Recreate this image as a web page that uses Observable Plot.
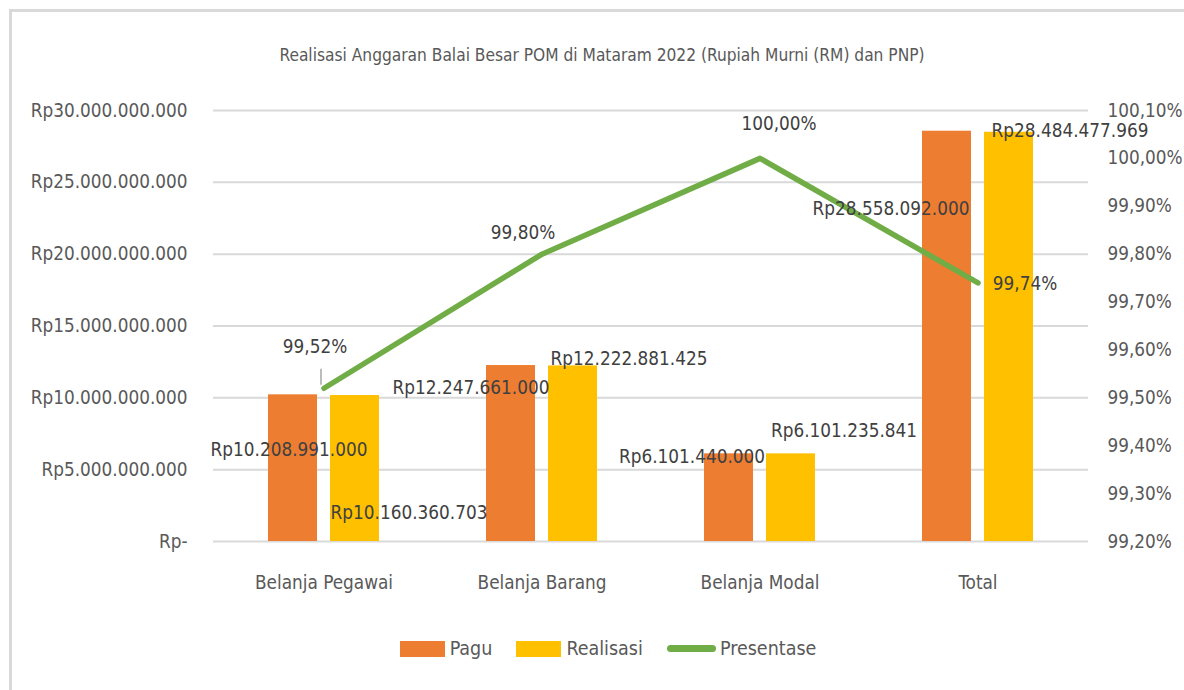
<!DOCTYPE html>
<html>
<head>
<meta charset="utf-8">
<script src="https://cdn.jsdelivr.net/npm/d3@7"></script>
<script src="https://cdn.jsdelivr.net/npm/@observablehq/plot@0.6"></script>
<style>
  html, body { margin: 0; padding: 0; background: #fff; }
  body { width: 1184px; height: 690px; overflow: hidden; position: relative;
         font-family: "Liberation Sans Narrow", "Arial Narrow", "DejaVu Sans Condensed", sans-serif; }
  #frame { position: absolute; left: 9px; top: 9px; width: 1200px; height: 700px;
           border-left: 3px solid #d9d9d9; border-top: 3px solid #d9d9d9; box-sizing: border-box; }
  #title { position: absolute; left: 10px; width: 1184px; top: 45px; text-align: center;
           font-size: 17.2px; color: #595959; }
  #chart { position: absolute; left: 0; top: 80px; }
  #legend { position: absolute; top: 637px; left: 0; width: 1216px; display: flex; justify-content: center;
            align-items: center; font-size: 19.5px; color: #595959; }
  .item { display: flex; align-items: center; margin: 0 12px; }
  .sw { width: 45px; height: 16px; margin-right: 5px; }
  .ln { width: 49px; height: 7px; border-radius: 4px; margin-right: 4px; }
</style>
</head>
<body>
<div id="frame"></div>
<div id="title">Realisasi Anggaran Balai Besar POM di Mataram 2022 (Rupiah Murni (RM) dan PNP)</div>
<div id="chart"></div>
<div id="legend"></div>
<script>
// ---- data ----
const categories = ["Belanja Pegawai", "Belanja Barang", "Belanja Modal", "Total"];
const pagu = [10208991000, 12247661000, 6101440000, 28558092000];
const realisasi = [10160360703, 12222881425, 6101235841, 28484477969];
const presentase = [99.52, 99.80, 100.00, 99.74];
const leftTicks = [0, 5e9, 10e9, 15e9, 20e9, 25e9, 30e9];
const rightTicks = [99.2, 99.3, 99.4, 99.5, 99.6, 99.7, 99.8, 99.9, 100.0, 100.1];
const seriesNames = ["Pagu", "Realisasi", "Presentase"];
const colors = ["#ED7D31", "#FFC000", "#70AD47"];

// secondary axis mapping (percent -> left-axis units)
const pMin = 99.2, pMax = 100.1, yMax = 30e9;
const pctToY = p => (p - pMin) / (pMax - pMin) * yMax;
const yToPct = v => v / yMax * (pMax - pMin) + pMin;

const fmtRp = v => v === 0 ? "Rp-" : "Rp" + d3.format(",")(v).replace(/,/g, ".");
const fmtPct = p => p.toFixed(2).replace(".", ",") + "%";

const bars = [];
categories.forEach((c, i) => {
  bars.push({cat: c, series: "Pagu", value: pagu[i]});
  bars.push({cat: c, series: "Realisasi", value: realisasi[i]});
});
const line = categories.map((c, i) => ({cat: c, pct: presentase[i]}));

// label nudges (pixels) mimicking Excel's label placement
const paguNudge = [[-35, 55], [-71, 22], [-68, 3], [-87, 78]];
const realNudge = [[85, 117], [87, -7], [84, -23], [92, -1]];
const pctNudge = [[-9, -41], [-19, -21], [19, -34], [47, 1]];

const labelColor = "#404040";
const fs = 18.8;

const labelMarks = [];
categories.forEach((c, i) => {
  labelMarks.push(Plot.text([{cat: c, value: pagu[i]}], {
    x: "cat", y: "value", text: d => fmtRp(d.value), dx: paguNudge[i][0], dy: paguNudge[i][1],
    fill: labelColor, fontSize: fs}));
  labelMarks.push(Plot.text([{cat: c, value: realisasi[i]}], {
    x: "cat", y: "value", text: d => fmtRp(d.value), dx: realNudge[i][0], dy: realNudge[i][1],
    fill: labelColor, fontSize: fs}));
  labelMarks.push(Plot.text([{cat: c, pct: presentase[i]}], {
    x: "cat", y: d => pctToY(d.pct), text: d => fmtPct(d.pct), dx: pctNudge[i][0], dy: pctNudge[i][1],
    fill: labelColor, fontSize: fs}));
});

const chart = Plot.plot({
  width: 1184,
  height: 540,
  marginLeft: 213,
  marginRight: 96,
  marginTop: 30,
  marginBottom: 79,
  style: {fontFamily: '"Liberation Sans Narrow", "Arial Narrow", "DejaVu Sans Condensed", sans-serif', fontSize: fs + "px", background: "transparent"},
  x: {type: "band", domain: categories, paddingInner: 0.4926, paddingOuter: 0.2463, axis: null},
  y: {domain: [0, yMax], axis: null},
  marks: [
    Plot.ruleY(leftTicks, {stroke: "#d9d9d9", strokeWidth: 2}),
    Plot.barY(bars.filter(d => d.series === "Pagu"), {x: "cat", y: "value", fill: colors[0], insetRight: 62}),
    Plot.barY(bars.filter(d => d.series === "Realisasi"), {x: "cat", y: "value", fill: colors[1], insetLeft: 62}),
    Plot.line(line, {x: "cat", y: d => pctToY(d.pct), stroke: colors[2], strokeWidth: 5.5,
      strokeLinecap: "round", strokeLinejoin: "round"}),
    // leader line for first percentage label
    Plot.ruleX([line[0]], {x: "cat", y1: d => pctToY(d.pct), y2: d => pctToY(d.pct),
      insetTop: -19, insetBottom: 3, dx: -3, stroke: "#a6a6a6", strokeWidth: 1.5}),
    Plot.axisY(leftTicks, {anchor: "left", tickSize: 0, tickPadding: 26, tickFormat: fmtRp,
      color: "#595959", fontSize: fs, label: null}),
    Plot.axisY(rightTicks.map(pctToY), {anchor: "right", tickSize: 0, tickPadding: 19,
      tickFormat: v => fmtPct(yToPct(v)), color: "#595959", fontSize: fs, textAnchor: "start", label: null}),
    Plot.axisX({tickSize: 0, tickPadding: 34, color: "#595959", fontSize: fs, label: null}),
    ...labelMarks
  ]
});
document.getElementById("chart").appendChild(chart);

// legend
const legend = document.getElementById("legend");
seriesNames.forEach((name, i) => {
  const item = document.createElement("div");
  item.className = "item";
  const sw = document.createElement("div");
  sw.className = i < 2 ? "sw" : "ln";
  sw.style.background = colors[i];
  const t = document.createElement("span");
  t.textContent = name;
  item.appendChild(sw);
  item.appendChild(t);
  legend.appendChild(item);
});
</script>
</body>
</html>
